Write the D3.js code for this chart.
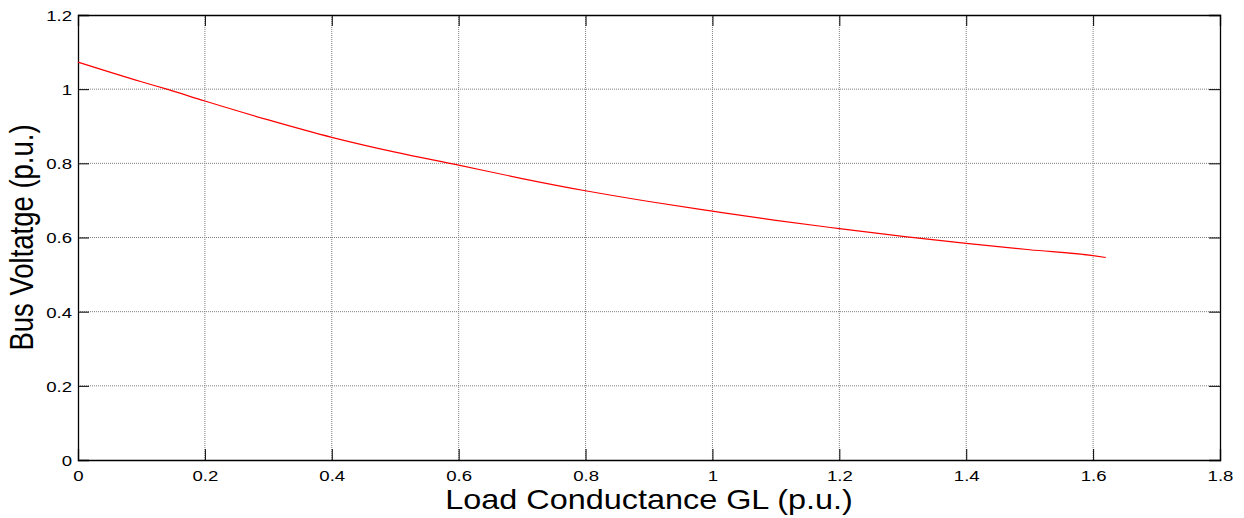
<!DOCTYPE html>
<html><head><meta charset="utf-8">
<script src="https://cdn.jsdelivr.net/npm/d3@7"></script>
<style>
html,body{margin:0;padding:0;background:#fff;}
svg text{font-family:"Liberation Sans",Arial,Helvetica,sans-serif;fill:#000;}
</style></head>
<body>
<svg id="chart" width="1244" height="518"></svg>
<script>
// Data
const conductance = [0, 0.1, 0.14, 0.2, 0.3, 0.4, 0.5, 0.6, 0.7, 0.8, 0.9, 1.0, 1.1, 1.2, 1.3, 1.4, 1.5, 1.6, 1.62];
const voltage     = [1.073, 1.020, 1.000, 0.968, 0.917, 0.870, 0.830, 0.795, 0.759, 0.726, 0.697, 0.671, 0.646, 0.624, 0.603, 0.584, 0.567, 0.551, 0.546];
const xTicks = [0, 0.2, 0.4, 0.6, 0.8, 1, 1.2, 1.4, 1.6, 1.8];
const yTicks = [0, 0.2, 0.4, 0.6, 0.8, 1, 1.2];
const xLabel = "Load Conductance GL (p.u.)";
const yLabel = "Bus Voltatge (p.u.)";

const svg = d3.select("#chart");
const L = 78, R = 1220, T = 15, B = 460;
const x = d3.scaleLinear().domain([0, 1.8]).range([L, R]);
const y = d3.scaleLinear().domain([0, 1.2]).range([B, T]);
const tickLen = 11;
const stretch = 1.2; // the reference text is horizontally stretched

// grid
const g = svg.append("g");
g.selectAll(".vg").data(xTicks.slice(1, -1)).enter().append("line")
  .attr("x1", d => x(d)).attr("x2", d => x(d)).attr("y1", T).attr("y2", B)
  .attr("stroke", "#808080").attr("stroke-width", 1).attr("stroke-dasharray", "1,1");
g.selectAll(".hg").data(yTicks.slice(1, -1)).enter().append("line")
  .attr("y1", d => y(d)).attr("y2", d => y(d)).attr("x1", L).attr("x2", R)
  .attr("stroke", "#808080").attr("stroke-width", 1).attr("stroke-dasharray", "1,1");

// axes with inward ticks
const fmt = d => String(d);
const xAxisB = d3.axisBottom(x).tickValues(xTicks).tickSize(-tickLen).tickFormat(fmt);
const xAxisT = d3.axisTop(x).tickValues(xTicks).tickSize(-tickLen).tickFormat("");
const yAxisL = d3.axisLeft(y).tickValues(yTicks).tickSize(-tickLen).tickFormat(fmt);
const yAxisR = d3.axisRight(y).tickValues(yTicks).tickSize(-tickLen).tickFormat("");

function style(sel) {
  sel.select(".domain").attr("stroke", "#000").attr("stroke-width", 1.3);
  sel.selectAll(".tick line").attr("stroke", "#000").attr("stroke-width", 1);
  sel.selectAll(".tick text").attr("font-size", 15.5).attr("fill", "#000")
     .style("font-family", '"Liberation Sans",Arial,sans-serif');
}
const gxb = svg.append("g").attr("transform", `translate(0,${B})`).call(xAxisB).call(style);
gxb.selectAll(".tick text").attr("y", 21).attr("dy", 0).attr("x", 0)
   .attr("transform", `scale(${stretch},1)`);
svg.append("g").attr("transform", `translate(0,${T})`).call(xAxisT).call(style);
const gyl = svg.append("g").attr("transform", `translate(${L},0)`).call(yAxisL).call(style);
gyl.selectAll(".tick text").attr("x", 0).attr("dy", "0.35em")
   .attr("transform", `translate(-6,0) scale(${stretch},1)`);
svg.append("g").attr("transform", `translate(${R},0)`).call(yAxisR).call(style);

// curve
const pts = conductance.map((c, i) => [c, voltage[i]]);
svg.append("path").datum(pts)
  .attr("fill", "none").attr("stroke", "#ff0000").attr("stroke-width", 1.2)
  .attr("d", d3.line().x(d => x(d[0])).y(d => y(d[1])).curve(d3.curveMonotoneX));

// labels
svg.append("text").attr("transform", `translate(${(L + R) / 2},509) scale(${stretch},1)`)
  .attr("text-anchor", "middle").attr("font-size", 27).text(xLabel);
svg.append("text").attr("transform", `translate(33,${(T + B) / 2}) scale(${stretch},1) rotate(-90)`)
  .attr("text-anchor", "middle").attr("font-size", 27.5).text(yLabel);
</script>
</body></html>
